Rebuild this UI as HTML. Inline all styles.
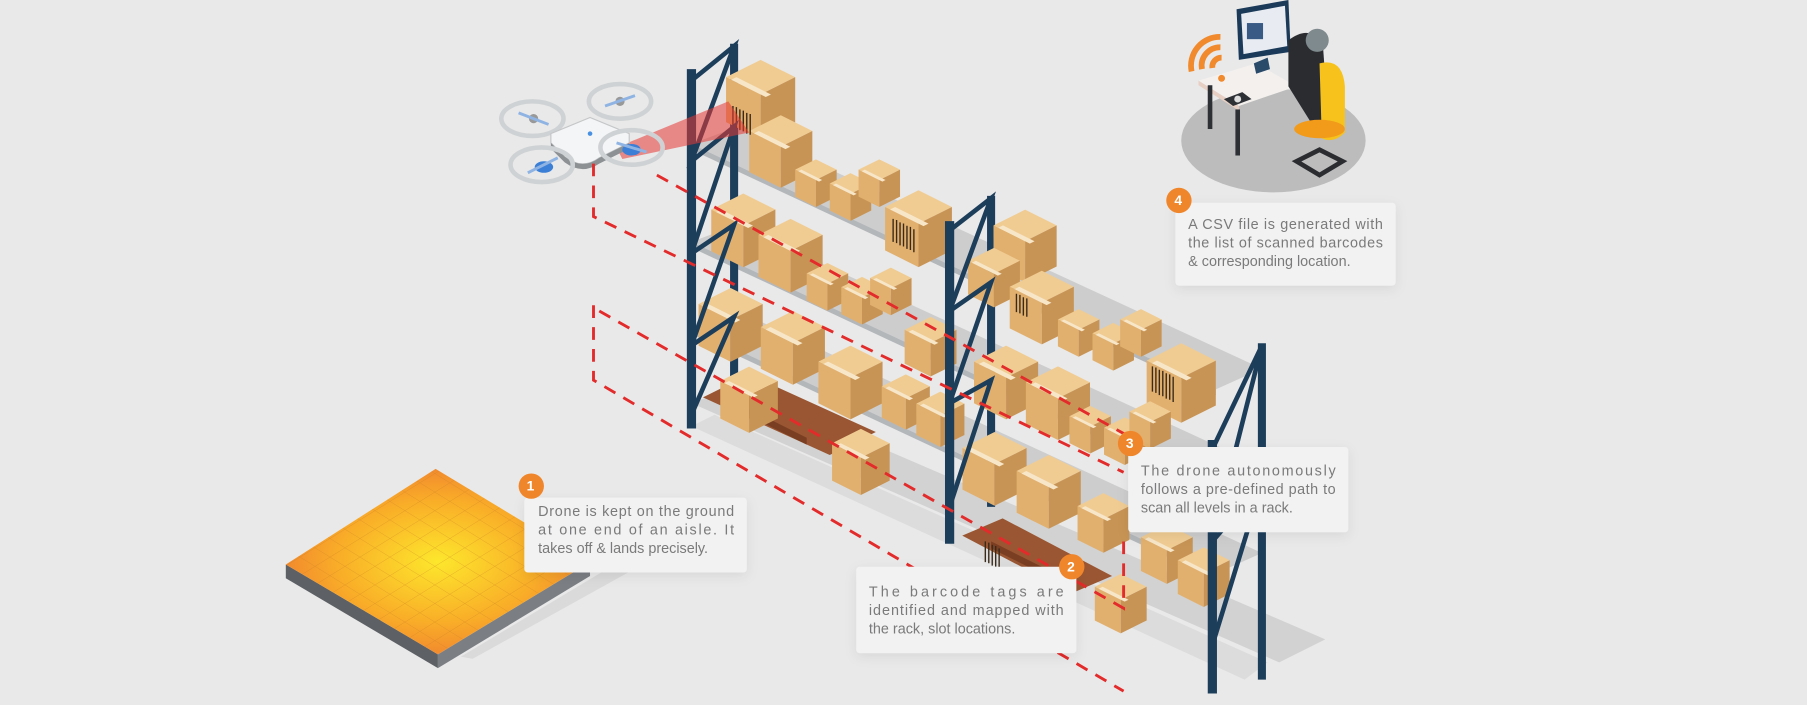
<!DOCTYPE html>
<html><head><meta charset="utf-8"><style>
html,body{margin:0;padding:0;background:#e9e9e9;}
svg{display:block;}
text{font-family:"Liberation Sans",sans-serif;font-size:12.5px;fill:#7a7a7a;}
.bn{font-size:12px;font-weight:bold;fill:#fff;}
</style></head><body>
<svg width="1807" height="705" viewBox="0 0 1568 612" preserveAspectRatio="none" xmlns="http://www.w3.org/2000/svg">
<defs>
<symbol id="cube" viewBox="0 0 40 46" overflow="visible">
<polygon points="0,10 20,0 40,10 20,20" fill="#f0cc93"/>
<polygon points="0,10 20,20 20,46 0,36" fill="#e2b06e"/>
<polygon points="20,20 40,10 40,36 20,46" fill="#c89455"/>
<polygon points="3,11.5 6,10 26,20 23,21.5" fill="#f7e6c8"/>
</symbol>
<radialGradient id="pad" cx="50%" cy="50%" r="55%">
<stop offset="0" stop-color="#fde72c"/><stop offset="0.6" stop-color="#f9ad28"/><stop offset="1" stop-color="#ef8030"/>
</radialGradient>
<pattern id="grid" width="13" height="13" patternUnits="userSpaceOnUse" patternTransform="matrix(1,-0.62,1,0.62,0,0)">
<path d="M0 0H13M0 0V13" stroke="#c77a20" stroke-width="0.7" fill="none" opacity="0.7"/>
</pattern>
<filter id="sh" x="-20%" y="-20%" width="140%" height="160%"><feDropShadow dx="0" dy="3" stdDeviation="5" flood-color="#000" flood-opacity="0.08"/></filter>
</defs>
<rect width="1568" height="612" fill="#e9e9e9"/>

<!-- floor shadows -->
<polygon points="600,350 640,335 1150,555 1110,575" fill="#d2d2d2"/>
<polygon points="620,360 1100,575 1080,590 600,370" fill="#dcdcdc"/>

<!-- landing pad -->
<polygon points="248,490 380,568 380,580 248,502" fill="#5d6064"/>
<polygon points="380,568 512,488 512,500 380,580" fill="#7b7f84"/>
<polygon points="400,570 530,492 545,497 410,572" fill="#dadada"/>
<polygon points="248,490 378,407 512,488 380,568" fill="url(#pad)"/>
<polygon points="248,490 378,407 512,488 380,568" fill="url(#grid)" opacity="0.6"/>

<!-- person desk -->
<ellipse cx="1105" cy="122" rx="80" ry="45" fill="#bcbcbc"/>
<polygon points="1040,70 1090,55 1125,75 1075,92" fill="#f3f0ee"/>
<polygon points="1040,70 1075,92 1075,96 1040,74" fill="#e7cfc3"/>
<rect x="1048" y="74" width="4" height="38" fill="#2d3035"/>
<rect x="1072" y="95" width="4" height="40" fill="#2d3035"/>
<polygon points="1073,8 1118,0 1120,45 1075,52" fill="#1b3a5a"/>
<polygon points="1077,12 1115,5 1117,40 1079,47" fill="#e8ecf2"/>
<rect x="1082" y="20" width="14" height="14" fill="#3a5a86"/>
<polygon points="1088,55 1100,50 1102,60 1090,64" fill="#2a4a6a"/>
<polygon points="1062,86 1078,80 1086,86 1070,92" fill="#2d3035"/>
<circle cx="1074" cy="86" r="3" fill="#ddd"/>
<path d="M1118 35 q20 -15 30 5 l5 70 l-10 5 l-25 -40 z" fill="#2a2c30"/>
<circle cx="1143" cy="35" r="10" fill="#7f8a8e"/>
<path d="M1145 55 q20 -5 22 20 l0 40 q-10 10 -20 5 z" fill="#f6c21b"/>
<ellipse cx="1145" cy="112" rx="22" ry="8" fill="#f29a1a"/>
<path d="M1125 140 l20 -10 l20 10 l-20 12 z" fill="none" stroke="#2a2c30" stroke-width="4"/>
<path d="M1034 62 a25 25 0 0 1 25 -30" fill="none" stroke="#f08a2c" stroke-width="5"/>
<path d="M1043 60 a16 16 0 0 1 16 -19" fill="none" stroke="#f08a2c" stroke-width="5"/>
<path d="M1052 59 a8 8 0 0 1 8 -9" fill="none" stroke="#f08a2c" stroke-width="5"/>
<circle cx="1060" cy="68" r="3" fill="#f08a2c"/>

<!-- racks shelves -->
<g fill="#cdcdcd">
<polygon points="600,125 640,110 1095,320 1055,338"/>
<polygon points="600,210 640,195 1095,405 1055,423"/>
<polygon points="600,285 640,270 1095,480 1055,498"/>
</g>
<g fill="#b4b7ba">
<polygon points="600,125 1055,338 1055,343 600,130"/>
<polygon points="600,210 1055,423 1055,428 600,215"/>
<polygon points="600,285 1055,498 1055,503 600,290"/>
</g>

<!-- pallets -->
<g fill="#9a5632">
<polygon points="610,345 650,325 760,375 720,395"/>
<polygon points="835,465 870,450 965,500 930,515"/>
</g>
<g fill="#7a3e22">
<polygon points="640,350 700,380 700,386 640,356"/>
<polygon points="860,470 930,505 930,511 860,476"/>
</g>

<!-- back uprights -->
<g stroke="#1d3e5b" stroke-width="7" fill="none">
<line x1="637" y1="38" x2="637" y2="330"/>
<line x1="860" y1="170" x2="860" y2="440"/>
<line x1="1095" y1="298" x2="1095" y2="590"/>
</g>

<!-- boxes -->
<g>
<use href="#cube" x="630" y="52" width="60" height="69"/>
<use href="#cube" x="650" y="100" width="55" height="63"/>
<use href="#cube" x="690" y="138" width="36" height="42"/>
<use href="#cube" x="720" y="150" width="36" height="42"/>
<use href="#cube" x="745" y="138" width="36" height="42"/>
<use href="#cube" x="768" y="165" width="58" height="67"/>
<use href="#cube" x="617" y="168" width="56" height="64"/>
<use href="#cube" x="658" y="190" width="56" height="64"/>
<use href="#cube" x="700" y="228" width="36" height="42"/>
<use href="#cube" x="730" y="240" width="36" height="42"/>
<use href="#cube" x="755" y="232" width="36" height="42"/>
<use href="#cube" x="862" y="182" width="55" height="63"/>
<use href="#cube" x="840" y="215" width="45" height="52"/>
<use href="#cube" x="876" y="235" width="56" height="64"/>
<use href="#cube" x="918" y="268" width="36" height="42"/>
<use href="#cube" x="948" y="280" width="36" height="42"/>
<use href="#cube" x="972" y="268" width="36" height="42"/>
<use href="#cube" x="995" y="298" width="60" height="69"/>
<use href="#cube" x="606" y="250" width="56" height="64"/>
<use href="#cube" x="660" y="270" width="56" height="64"/>
<use href="#cube" x="710" y="300" width="56" height="64"/>
<use href="#cube" x="765" y="325" width="42" height="48"/>
<use href="#cube" x="795" y="340" width="42" height="48"/>
<use href="#cube" x="785" y="275" width="45" height="52"/>
<use href="#cube" x="845" y="300" width="56" height="64"/>
<use href="#cube" x="890" y="318" width="56" height="64"/>
<use href="#cube" x="928" y="352" width="36" height="42"/>
<use href="#cube" x="958" y="362" width="36" height="42"/>
<use href="#cube" x="980" y="348" width="36" height="42"/>
<use href="#cube" x="625" y="318" width="50" height="58"/>
<use href="#cube" x="722" y="372" width="50" height="58"/>
<use href="#cube" x="835" y="375" width="56" height="64"/>
<use href="#cube" x="882" y="395" width="56" height="64"/>
<use href="#cube" x="935" y="428" width="45" height="52"/>
<use href="#cube" x="990" y="455" width="45" height="52"/>
<use href="#cube" x="1022" y="475" width="45" height="52"/>
<use href="#cube" x="950" y="498" width="45" height="52"/>
</g>
<!-- barcodes -->
<g stroke="#3a2a1a" stroke-width="1.2">
<path d="M636 92v18M639 93v18M642 95v18M645 96v18M648 98v18M651 99v18"/>
<path d="M775 190v20M778 191v20M781 193v20M784 194v20M787 196v20M790 197v20M793 199v20"/>
<path d="M882 255v16M885 256v16M888 258v16M891 259v16"/>
<path d="M1000 318v22M1003 319v22M1006 321v22M1009 322v22M1012 324v22M1015 325v22M1018 327v22"/>
<path d="M855 470v18M858 471v18M861 473v18M864 474v18M867 476v18"/>
</g>

<!-- front uprights -->
<g stroke="#1d3e5b" stroke-width="8" fill="none">
<line x1="600" y1="60" x2="600" y2="372"/>
<line x1="824" y1="192" x2="824" y2="472"/>
<line x1="1052" y1="382" x2="1052" y2="602"/>
</g>
<g stroke="#1d3e5b" stroke-width="4" fill="none">
<polyline points="600,70 637,40 600,140 637,110 600,220 637,195 600,300 637,275 600,360"/>
<polyline points="824,200 860,172 824,270 860,245 824,350 860,330 824,440"/>
<polyline points="1052,390 1095,300 1052,470 1095,420 1052,560"/>
</g>

<!-- drone beam -->
<polygon points="535,128 632,88 650,115 540,138" fill="#e53935" opacity="0.55"/>
<!-- drone -->
<g>
<ellipse cx="462" cy="103" rx="27" ry="15" fill="none" stroke="#cfd2d4" stroke-width="4"/>
<ellipse cx="538" cy="88" rx="27" ry="15" fill="none" stroke="#cfd2d4" stroke-width="4"/>
<path d="M478 116 L512 102 L546 116 L546 124 L520 137 Q505 148 490 136 L478 124 Z" fill="#f4f5f6" stroke="#c4c6c8"/>
<path d="M478 124 L490 136 Q505 148 520 137 L546 124 L546 129 L520 142 Q505 152 490 141 L478 129Z" fill="#8d9194"/>
<circle cx="512" cy="116" r="2" fill="#4a90e2"/>
<ellipse cx="470" cy="143" rx="27" ry="15" fill="none" stroke="#cfd2d4" stroke-width="4"/>
<ellipse cx="548" cy="128" rx="27" ry="15" fill="none" stroke="#cfd2d4" stroke-width="4"/>
<circle cx="463" cy="103" r="4" fill="#999"/><circle cx="538" cy="88" r="4" fill="#999"/>
<ellipse cx="472" cy="145" rx="8" ry="5" fill="#3b7fd6"/><ellipse cx="548" cy="130" rx="8" ry="5" fill="#3b7fd6"/>
<g stroke="#8fb4e3" stroke-width="2.5"><line x1="450" y1="98" x2="476" y2="108"/><line x1="525" y1="92" x2="551" y2="83"/><line x1="458" y1="150" x2="484" y2="137"/><line x1="535" y1="124" x2="561" y2="132"/></g>
</g>

<!-- dashed lines -->
<g stroke="#e32b2b" stroke-width="2.5" stroke-dasharray="11,8" fill="none">
<polyline points="515,142 515,188 975,410"/>
<polyline points="570,152 978,378"/>
<polyline points="515,265 515,330 975,600"/>
<polyline points="520,270 975,528 975,470"/>
</g>

<!-- callouts -->
<g filter="url(#sh)" fill="#f2f2f3">
<rect x="455" y="432" width="193" height="65" rx="3"/>
<rect x="743" y="492" width="191" height="75" rx="3"/>
<rect x="979" y="388" width="191" height="74" rx="3"/>
<rect x="1020" y="176" width="191" height="72" rx="3"/>
</g>
<g fill="#f0862b">
<circle cx="461" cy="422" r="11"/><circle cx="930" cy="492" r="11"/><circle cx="981" cy="385" r="11"/><circle cx="1023" cy="174" r="11"/>
</g>
<text class="bn" x="457" y="426">1</text>
<text class="bn" x="926" y="496">2</text>
<text class="bn" x="977" y="389">3</text>
<text class="bn" x="1019" y="178">4</text>

<text x="467" y="448" textLength="170" lengthAdjust="spacing">Drone is kept on the ground</text>
<text x="467" y="464" textLength="170" lengthAdjust="spacing">at one end of an aisle. It</text>
<text x="467" y="480">takes off &amp; lands precisely.</text>

<text x="754" y="518" textLength="169" lengthAdjust="spacing">The barcode tags are</text>
<text x="754" y="534" textLength="169" lengthAdjust="spacing">identified and mapped with</text>
<text x="754" y="550">the rack, slot locations.</text>

<text x="990" y="413" textLength="169" lengthAdjust="spacing">The drone autonomously</text>
<text x="990" y="429" textLength="169" lengthAdjust="spacing">follows a pre-defined path to</text>
<text x="990" y="445">scan all levels in a rack.</text>

<text x="1031" y="199" textLength="169" lengthAdjust="spacing">A CSV file is generated with</text>
<text x="1031" y="215" textLength="169" lengthAdjust="spacing">the list of scanned barcodes</text>
<text x="1031" y="231">&amp; corresponding location.</text>
</svg>
</body></html>
